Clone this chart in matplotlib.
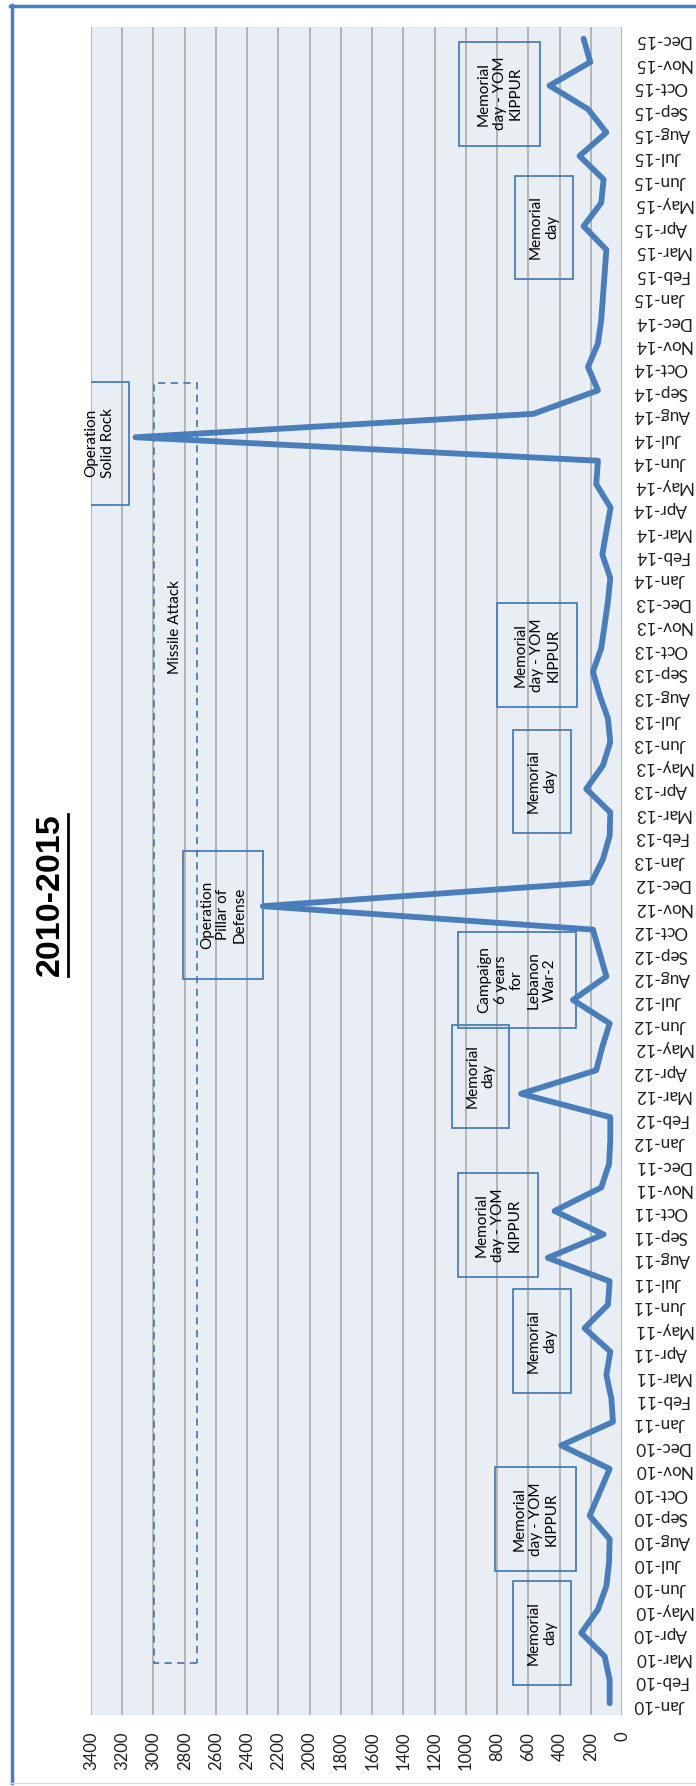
from matplotlib import pyplot as plt
from matplotlib.lines import Line2D
from matplotlib.patches import Rectangle

plt.rcParams['font.family'] = ['Lato', 'DejaVu Sans']

months = ['Jan', 'Feb', 'Mar', 'Apr', 'May', 'Jun', 'Jul', 'Aug', 'Sep', 'Oct', 'Nov', 'Dec']
years = ['10', '11', '12', '13', '14', '15']
labels = [m + '-' + y for y in years for m in months]

v2010 = [79, 79, 111, 261, 154, 100, 83, 79, 207, 143, 79, 389]
v2011 = [58, 68, 100, 75, 240, 90, 79, 475, 118, 432, 133, 83]
v2012 = [75, 75, 646, 165, 126, 79, 314, 100, 143, 186, 2300, 197]
v2013 = [122, 79, 75, 229, 122, 75, 90, 143, 186, 133, 111, 90]
v2014 = [75, 126, 100, 73, 165, 154, 3115, 567, 154, 218, 154, 133]
v2015 = [122, 111, 100, 246, 133, 118, 272, 100, 218, 464, 203, 246]
values = v2010 + v2011 + v2012 + v2013 + v2014 + v2015

# callout boxes: (text, value from, value to, month from, month to)
notes = [
    ('Memorial\nday', 326, 698, 0.78, 5.22),
    ('Memorial\nday - YOM\nKIPPUR', 294, 813, 5.64, 10.08),
    ('Memorial\nday', 326, 698, 13.24, 17.67),
    ('Memorial\nday - YOM\nKIPPUR', 538, 1050, 18.19, 22.62),
    ('Memorial\nday', 723, 1088, 24.54, 28.94),
    ('Campaign\n6 years\nfor\nLebanon\nWar-2', 294, 1050, 28.81, 32.9),
    ('Operation\nPillar of\nDefense', 2298, 2810, 30.9, 36.36),
    ('Memorial\nday', 326, 698, 37.13, 41.52),
    ('Memorial\nday - YOM\nKIPPUR', 288, 800, 42.5, 46.94),
    ('Operation\nSolid Rock', 3156, 3534, 51.12, 56.37),
    ('Memorial\nday', 314, 685, 60.76, 65.16),
    ('Memorial\nday - YOM\nKIPPUR', 525, 1043, 66.44, 70.87),
]

blue = '#4a7ebb'

fig = plt.figure(figsize=(6.96, 17.86), dpi=100, facecolor='white')
ax = fig.add_axes([91 / 696, 1 - 1715 / 1786, 531 / 696, 1688 / 1786])
ax.set_facecolor('#e9edf4')

pos = list(range(len(values)))
ax.plot(values, pos, color=blue, lw=4.2, solid_joinstyle='round', solid_capstyle='round', zorder=3)

ax.set_xlim(3400, 0)
ax.set_ylim(-0.5, 71.5)
ax.set_xticks(range(0, 3401, 200))
ax.set_yticks(pos)
ax.set_yticklabels(labels)
ax.yaxis.tick_right()
ax.tick_params(axis='y', length=0, pad=8, labelrotation=180, labelsize=12.3, labelcolor='#202020')
ax.tick_params(axis='x', length=0, pad=12, labelrotation=90, labelsize=12, labelcolor='#202020')
ax.grid(axis='x', color='#b4b4b4', lw=1.4, zorder=1)
ax.set_axisbelow(True)
for s in ax.spines.values():
    s.set_visible(False)

for txt, x0, x1, y0, y1 in notes:
    ax.add_patch(Rectangle((x0, y0), x1 - x0, y1 - y0, fill=False, ec=blue, lw=1.3, zorder=4))
    ax.text((x0 + x1) / 2, (y0 + y1) / 2, txt, rotation=90, ha='center', va='center',
            fontsize=11, multialignment='center', zorder=5)

# dashed "Missile Attack" frame
ax.add_patch(Rectangle((2721, 1.72), 2996 - 2721, 56.33 - 1.72, fill=False, ec=blue,
                       lw=1.3, ls=(0, (4, 3)), zorder=4))
ax.text(2862, 45.9, 'Missile Attack', rotation=90, ha='center', va='center', fontsize=11, zorder=5)

# title with underline
t = fig.text(50 / 696, 1 - 895 / 1786, '2010-2015', rotation=90, ha='center', va='center',
             fontsize=24.5, fontweight='bold', family=['Liberation Sans', 'DejaVu Sans'])
r = fig.canvas.get_renderer()
bb = t.get_window_extent(r)
ux = (bb.x1 + 2) / 696
fig.add_artist(Line2D([ux, ux], [bb.y0 / 1786, bb.y1 / 1786], color='black', lw=2))

# outer frame
fig.add_artist(Line2D([11.5 / 696, 11.5 / 696], [1 - 5 / 1786, 1 - 1783 / 1786], color=blue, lw=2.5))
fig.add_artist(Line2D([10 / 696, 1], [1 - 5.5 / 1786, 1 - 5.5 / 1786], color=blue, lw=2.5))
fig.add_artist(Line2D([10 / 696, 1], [1 - 1783 / 1786, 1 - 1783 / 1786], color='#d9d9d9', lw=1))

fig.savefig('out.png', dpi=100, facecolor='white')
